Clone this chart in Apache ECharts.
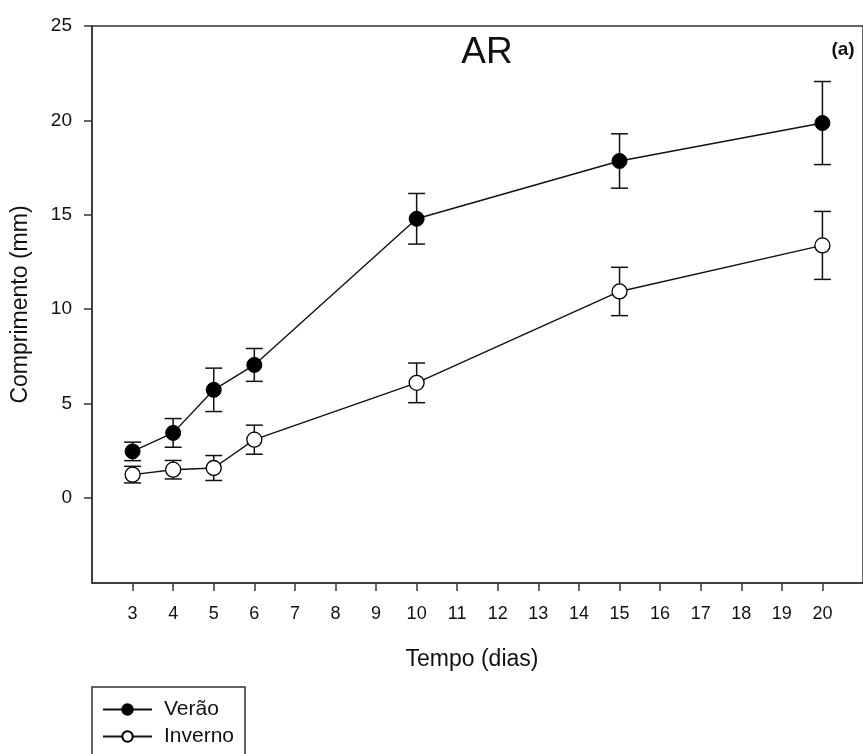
<!DOCTYPE html>
<html>
<head>
<meta charset="utf-8">
<script src="https://cdn.jsdelivr.net/npm/echarts@6/dist/echarts.min.js"></script>
<style>
  html, body { margin: 0; padding: 0; background: #fff; }
  #chart { width: 863px; height: 754px; }
</style>
</head>
<body>
<div id="chart"></div>
<script>
// Comprimento médio (mm) ao longo do tempo, verão e inverno, com desvio
const days = [3, 4, 5, 6, 10, 15, 20];
const veraoMean = [2.47, 3.45, 5.73, 7.05, 14.79, 17.85, 19.86];
const veraoErr = [0.49, 0.76, 1.15, 0.87, 1.34, 1.44, 2.2];
const invernoMean = [1.24, 1.5, 1.59, 3.09, 6.1, 10.94, 13.38];
const invernoErr = [0.44, 0.49, 0.66, 0.77, 1.05, 1.28, 1.8];
const xTicks = [3, 4, 5, 6, 7, 8, 9, 10, 11, 12, 13, 14, 15, 16, 17, 18, 19, 20];
const yTicks = [0, 5, 10, 15, 20, 25];

const FONT = '"Liberation Sans", Arial, sans-serif';
const INK = '#111';

function pairs(xs, ys) { return xs.map((x, i) => [x, ys[i]]); }
function ranges(xs, ys, es) { return xs.map((x, i) => [x, ys[i] - es[i], ys[i] + es[i]]); }

function errorBars(params, api) {
  const x = api.value(0);
  const lo = api.coord([x, api.value(1)]);
  const hi = api.coord([x, api.value(2)]);
  const half = 8.5;
  const style = { stroke: INK, lineWidth: 1.5, fill: null };
  return {
    type: 'group',
    children: [
      { type: 'line', shape: { x1: lo[0], y1: lo[1], x2: hi[0], y2: hi[1] }, style },
      { type: 'line', shape: { x1: lo[0] - half, y1: lo[1], x2: lo[0] + half, y2: lo[1] }, style },
      { type: 'line', shape: { x1: hi[0] - half, y1: hi[1], x2: hi[0] + half, y2: hi[1] }, style }
    ]
  };
}

function legendEntry(name, top) {
  return {
    show: true,
    orient: 'vertical',
    left: 102, top: top,
    padding: 0,
    itemWidth: 49, itemHeight: 13,
    textStyle: { fontFamily: FONT, fontSize: 21, color: INK, lineHeight: 20, padding: [0, 0, 0, 7] },
    data: [name]
  };
}

const chart = echarts.init(document.getElementById('chart'), null, { renderer: 'canvas' });

chart.setOption({
  backgroundColor: '#fff',
  animation: false,
  textStyle: { fontFamily: FONT },
  title: [
    { text: 'AR', left: 482, top: 29, textAlign: 'center',
      textStyle: { fontFamily: FONT, fontSize: 37, fontWeight: 'normal', color: INK } },
    { text: '(a)', left: 838, top: 35, textAlign: 'center',
      textStyle: { fontFamily: FONT, fontSize: 19, fontWeight: 'bold', color: INK } },
    { text: 'Tempo (dias)', left: 467, top: 643, textAlign: 'center',
      textStyle: { fontFamily: FONT, fontSize: 23, fontWeight: 'normal', color: INK } }
  ],
  graphic: [
    { type: 'rect', shape: { x: 92, y: 687, width: 153, height: 90 },
      style: { fill: 'none', stroke: '#333', lineWidth: 1.5 } }
  ],
  grid: {
    left: 92, top: 26, width: 773, height: 557,
    show: true, borderColor: '#333', borderWidth: 1.5, backgroundColor: 'transparent'
  },
  legend: [legendEntry('Verão', 699), legendEntry('Inverno', 726)],
  xAxis: {
    type: 'value', min: 2, max: 21,
    splitLine: { show: false },
    axisLine: { show: true, onZero: false, lineStyle: { color: '#333', width: 1.5 } },
    axisTick: { show: true, length: 8, customValues: xTicks, lineStyle: { color: '#333', width: 1.5 } },
    axisLabel: { customValues: xTicks, margin: 22, fontSize: 18, fontFamily: FONT, color: INK }
  },
  yAxis: {
    type: 'value', min: -4.5, max: 25,
    name: 'Comprimento (mm)', nameLocation: 'middle', nameGap: 60,
    nameTextStyle: { fontFamily: FONT, fontSize: 23, color: INK },
    splitLine: { show: false },
    axisLine: { show: true, onZero: false, lineStyle: { color: '#333', width: 1.5 } },
    axisTick: { show: true, length: 8, customValues: yTicks, lineStyle: { color: '#333', width: 1.5 } },
    axisLabel: { customValues: yTicks, margin: 20, fontSize: 19, fontFamily: FONT, color: INK }
  },
  series: [
    { name: 'Verão-erro', type: 'custom', renderItem: errorBars, z: 1,
      data: ranges(days, veraoMean, veraoErr), encode: { x: 0, y: [1, 2] }, silent: true },
    { name: 'Inverno-erro', type: 'custom', renderItem: errorBars, z: 1,
      data: ranges(days, invernoMean, invernoErr), encode: { x: 0, y: [1, 2] }, silent: true },
    { name: 'Verão', type: 'line', z: 3,
      data: pairs(days, veraoMean),
      symbol: 'circle', symbolSize: 15,
      lineStyle: { color: INK, width: 1.4 },
      itemStyle: { color: '#000', borderColor: '#000', borderWidth: 1 } },
    { name: 'Inverno', type: 'line', z: 3,
      data: pairs(days, invernoMean),
      symbol: 'circle', symbolSize: 15,
      lineStyle: { color: INK, width: 1.4 },
      itemStyle: { color: '#fff', borderColor: '#000', borderWidth: 1.3 } }
  ]
});
</script>
</body>
</html>
